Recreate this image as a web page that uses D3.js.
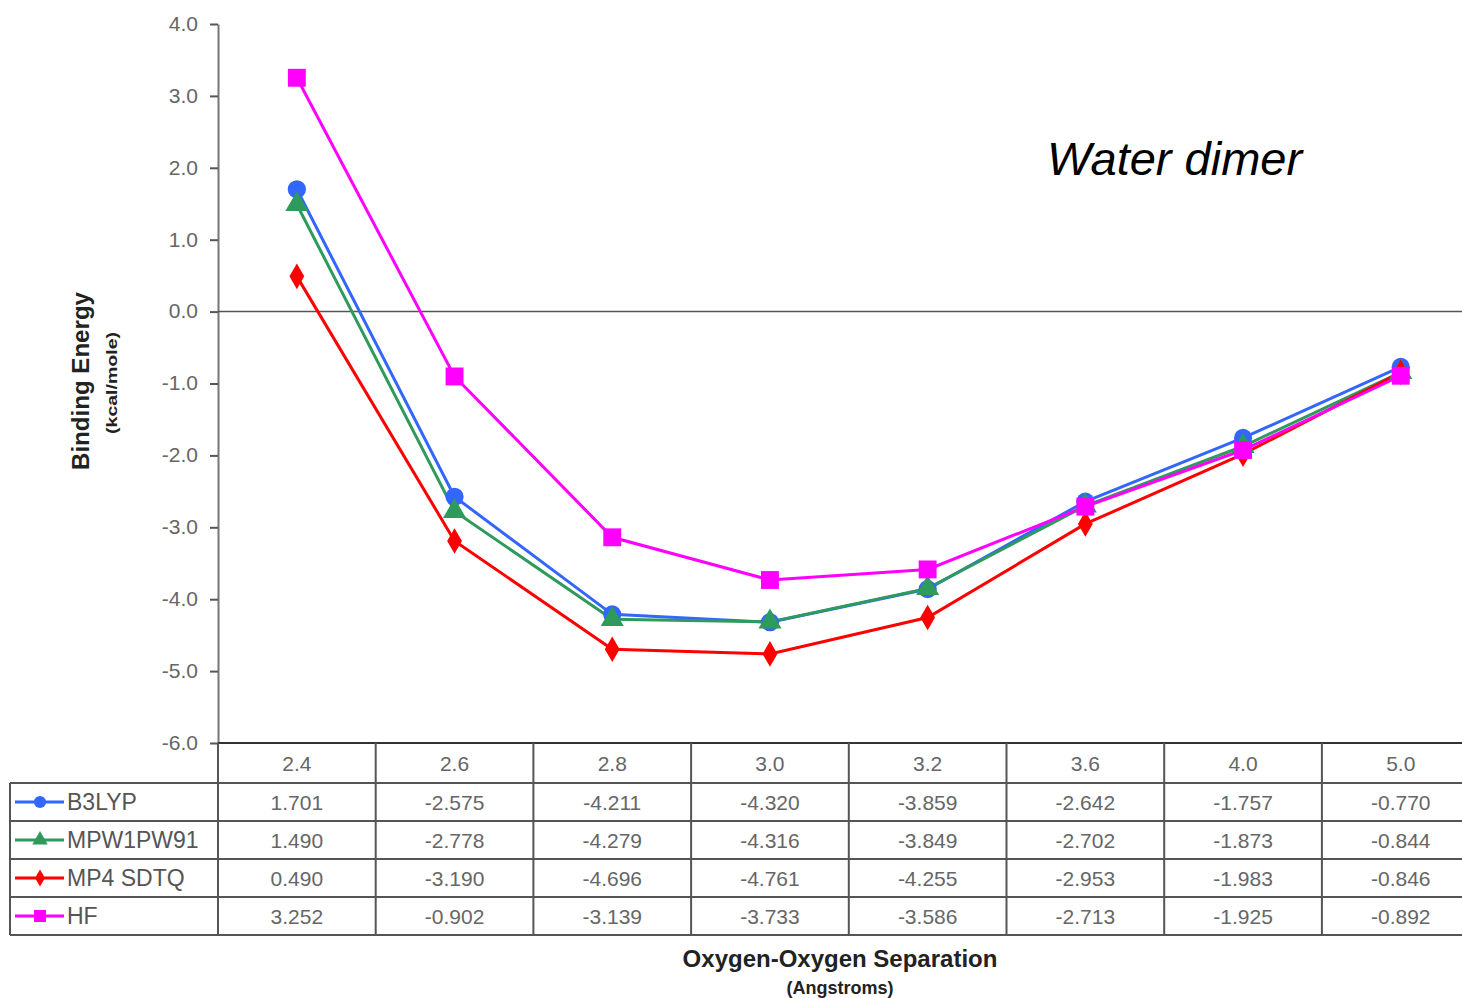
<!DOCTYPE html>
<html lang="en">
<head>
  <meta charset="UTF-8" />
  <title>Water dimer</title>
  <script src="https://cdn.jsdelivr.net/npm/d3@7"></script>
  <style>
    body { margin: 0; background: #fff; }
    svg { display: block; font-family: "Liberation Sans", Arial, sans-serif; }
    .tick text { fill: #666; font-size: 21px; }
  </style>
</head>
<body>
  <script>
    // category labels and series
    var separations = ["2.4", "2.6", "2.8", "3.0", "3.2", "3.6", "4.0", "5.0"];
    var b3lyp = [1.701, -2.575, -4.211, -4.320, -3.859, -2.642, -1.757, -0.770];
    var mpw1pw91 = [1.490, -2.778, -4.279, -4.316, -3.849, -2.702, -1.873, -0.844];
    var mp4sdtq = [0.490, -3.190, -4.696, -4.761, -4.255, -2.953, -1.983, -0.846];
    var hf = [3.252, -0.902, -3.139, -3.733, -3.586, -2.713, -1.925, -0.892];
    var seriesNames = ["B3LYP", "MPW1PW91", "MP4 SDTQ", "HF"];
    var yTicks = [4, 3, 2, 1, 0, -1, -2, -3, -4, -5, -6];

    var series = [
      { name: seriesNames[0], values: b3lyp, color: "#3366ff", shape: d3.symbolCircle, size: 260 },
      { name: seriesNames[1], values: mpw1pw91, color: "#2e9a5c", shape: d3.symbolTriangle, size: 230 },
      { name: seriesNames[2], values: mp4sdtq, color: "#ff0000", shape: d3.symbolDiamond, size: 190 },
      { name: seriesNames[3], values: hf, color: "#ff00ff", shape: d3.symbolSquare, size: 320 }
    ];

    // plain hyphen minus, like the original
    var loc = d3.formatLocale({ decimal: ".", thousands: ",", grouping: [3], currency: ["", ""], minus: "-" });
    var fmt1 = loc.format(".1f");
    var fmt3 = loc.format(".3f");

    var w = 1462, h = 998;
    var left = 218, colW = 157.7;
    var plotTop = 24, plotBottom = 743;
    var rowH = 38, headH = 40;

    var svg = d3.select("body").append("svg")
      .attr("width", w)
      .attr("height", h);

    var x = d3.scaleBand()
      .domain(separations)
      .range([left, left + colW * separations.length]);

    var y = d3.scaleLinear()
      .domain([-6, 4])
      .range([plotBottom, plotTop]);

    // y axis
    var yAxis = svg.append("g")
      .attr("transform", "translate(" + left + ",0)")
      .call(d3.axisLeft(y).tickValues(yTicks).tickSize(8).tickSizeOuter(0).tickPadding(12)
        .tickFormat(fmt1));
    yAxis.select(".domain").attr("stroke", "#777").attr("stroke-width", 2);
    yAxis.selectAll(".tick line").attr("stroke", "#555").attr("stroke-width", 2);
    yAxis.selectAll(".tick text").attr("dy", "0.3em");

    // zero line
    svg.append("line")
      .attr("x1", left).attr("x2", w)
      .attr("y1", y(0)).attr("y2", y(0))
      .attr("stroke", "#555").attr("stroke-width", 1.5);

    // lines + markers
    var line = d3.line()
      .x(function(d, i) { return x(separations[i]) + x.bandwidth() / 2; })
      .y(function(d) { return y(d); });

    series.forEach(function(s) {
      svg.append("path")
        .datum(s.values)
        .attr("d", line)
        .attr("fill", "none")
        .attr("stroke", s.color)
        .attr("stroke-width", 3);
    });
    series.forEach(function(s) {
      svg.selectAll(null)
        .data(s.values)
        .enter()
        .append("path")
        .attr("d", d3.symbol().type(s.shape).size(s.size))
        .attr("transform", function(d, i) {
          return "translate(" + (x(separations[i]) + x.bandwidth() / 2) + "," + y(d) + ")";
        })
        .attr("fill", s.color);
    });

    // data table
    var table = svg.append("g");
    var tableBottom = plotBottom + headH + rowH * series.length;
    var lc = "#555";

    table.append("line").attr("x1", left).attr("x2", w)
      .attr("y1", plotBottom).attr("y2", plotBottom)
      .attr("stroke", "#333").attr("stroke-width", 2);
    for (var r = 0; r <= series.length; r++) {
      var yy = plotBottom + headH + r * rowH;
      table.append("line").attr("x1", 10).attr("x2", w)
        .attr("y1", yy).attr("y2", yy)
        .attr("stroke", lc).attr("stroke-width", 2);
    }
    table.append("line").attr("x1", 10).attr("x2", 10)
      .attr("y1", plotBottom + headH).attr("y2", tableBottom)
      .attr("stroke", lc).attr("stroke-width", 2);
    separations.forEach(function(s) {
      table.append("line")
        .attr("x1", x(s)).attr("x2", x(s))
        .attr("y1", plotBottom).attr("y2", tableBottom)
        .attr("stroke", lc).attr("stroke-width", 2);
    });

    table.selectAll("text.head")
      .data(separations)
      .enter()
      .append("text")
      .attr("class", "head")
      .attr("x", function(d) { return x(d) + x.bandwidth() / 2; })
      .attr("y", plotBottom + headH / 2 + 8)
      .attr("text-anchor", "middle")
      .attr("font-size", "21px")
      .attr("fill", "#666")
      .text(function(d) { return d; });

    series.forEach(function(s, r) {
      var cy = plotBottom + headH + r * rowH + rowH / 2;
      table.append("line")
        .attr("x1", 15).attr("x2", 64)
        .attr("y1", cy).attr("y2", cy)
        .attr("stroke", s.color).attr("stroke-width", 3);
      table.append("path")
        .attr("d", d3.symbol().type(s.shape).size(s.size * 0.45))
        .attr("transform", "translate(40," + cy + ")")
        .attr("fill", s.color);
      table.append("text")
        .attr("x", 67).attr("y", cy + 8)
        .attr("font-size", "23px")
        .attr("fill", "#555")
        .text(s.name);
      table.selectAll(null)
        .data(s.values)
        .enter()
        .append("text")
        .attr("x", function(d, i) { return x(separations[i]) + x.bandwidth() / 2; })
        .attr("y", cy + 8)
        .attr("text-anchor", "middle")
        .attr("font-size", "21px")
        .attr("fill", "#666")
        .text(function(d) { return fmt3(d); });
    });

    // titles
    svg.append("text")
      .attr("transform", "translate(89,381) rotate(-90)")
      .attr("text-anchor", "middle")
      .attr("font-size", "23px")
      .attr("font-weight", "bold")
      .attr("fill", "#222")
      .attr("textLength", 178)
      .attr("lengthAdjust", "spacingAndGlyphs")
      .text("Binding Energy");
    svg.append("text")
      .attr("transform", "translate(117,383) rotate(-90)")
      .attr("text-anchor", "middle")
      .attr("font-size", "15px")
      .attr("font-weight", "bold")
      .attr("fill", "#222")
      .attr("textLength", 102)
      .attr("lengthAdjust", "spacingAndGlyphs")
      .text("(kcal/mole)");

    svg.append("text")
      .attr("x", 840).attr("y", 967)
      .attr("text-anchor", "middle")
      .attr("font-size", "24px")
      .attr("font-weight", "bold")
      .attr("fill", "#222")
      .text("Oxygen-Oxygen Separation");
    svg.append("text")
      .attr("x", 840).attr("y", 994)
      .attr("text-anchor", "middle")
      .attr("font-size", "18px")
      .attr("font-weight", "bold")
      .attr("fill", "#222")
      .text("(Angstroms)");

    svg.append("text")
      .attr("x", 1047).attr("y", 175)
      .attr("font-size", "47px")
      .attr("font-style", "italic")
      .attr("fill", "#000")
      .text("Water dimer");
  </script>
</body>
</html>
